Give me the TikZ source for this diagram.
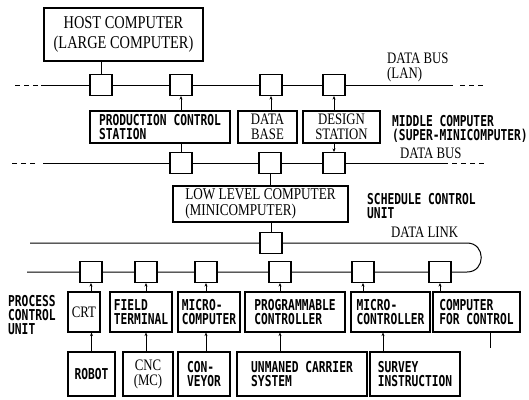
\documentclass[tikz,border=0pt]{standalone}
\usepackage{fontspec}
\setmainfont{Liberation Serif}[FakeStretch=0.8]
\newfontfamily\gothic{DejaVu Sans Mono}[FakeStretch=0.75]
\usetikzlibrary{arrows.meta}

\begin{document}
\begin{tikzpicture}[
  x=1pt, y=-1pt,
  unit/.style={draw, line width=1.1pt, align=center, inner sep=1pt},
  gbox/.style={unit, align=left, font=\gothic\bfseries\fontsize{15}{14}\selectfont},
  sbox/.style={unit, font=\fontsize{16}{15}\selectfont},
  port/.style={draw, line width=1.1pt, fill=white, minimum width=22, minimum height=21, inner sep=0},
  lbl/.style={anchor=north west, inner sep=0, align=left, font=\gothic\bfseries\fontsize{15}{14}\selectfont},
  slbl/.style={anchor=north west, inner sep=0, align=left, font=\fontsize{16}{15}\selectfont},
  bus/.style={line width=1pt},
  busend/.style={bus, dash pattern=on 5pt off 4pt},
  link/.style={line width=0.8pt, -{Stealth[length=3.5pt,width=3pt]}}
]
  \useasboundingbox (0,0) rectangle (529,399);

  \coordinate (lanL)  at (41,85);
  \coordinate (lanR)  at (453,85);
  \coordinate (bus2L) at (43,163);
  \coordinate (bus2R) at (448,163);
  \coordinate (dlL)   at (30,243);
  \coordinate (dlR)   at (467,243);
  \coordinate (pbR)   at (467,272);
  \coordinate (pbL)   at (27,272);
  \coordinate (stub)  at (490,348);

  \draw[bus] (lanL) -- (lanR);
  \draw[busend] (lanL) ++(-3,0) -- ++(-26,0);
  \draw[busend] (lanR) ++(7,0) -- ++(26,0);
  \draw[bus] (bus2L) -- (bus2R);
  \draw[busend] (bus2L) ++(-8,0) -- ++(-23,0);
  \draw[busend] (bus2R) ++(4,0) -- ++(33,0);
  \draw[bus] (dlL) -- (dlR) .. controls +(19,0) and +(19,0) .. (pbR) -- (pbL);

  \node[sbox, minimum width=159, minimum height=53, font=\fontsize{18}{20}\selectfont] (host) at (123.5,34.5) {HOST COMPUTER\\(LARGE COMPUTER)};
  \node[gbox, minimum width=140, minimum height=32] (prod)   at (160,127)   {PRODUCTION CONTROL\\STATION};
  \node[sbox, minimum width=59,  minimum height=32] (dbase)  at (267.5,127) {DATA\\BASE};
  \node[sbox, minimum width=77,  minimum height=32] (design) at (341.5,127) {DESIGN\\STATION};
  \node[sbox, align=left, minimum width=175, minimum height=36, font=\fontsize{16.5}{16.5}\selectfont] (low) at (260.5,204) {LOW LEVEL COMPUTER\\(MINICOMPUTER)};

  \node[sbox, minimum width=32,  minimum height=40] (crt)   at (84,312)    {CRT};
  \node[gbox, minimum width=62,  minimum height=40] (field) at (141,312)   {FIELD\\TERMINAL};
  \node[gbox, minimum width=62,  minimum height=40] (mcomp) at (209,312)   {MICRO-\\COMPUTER};
  \node[gbox, minimum width=100, minimum height=40] (plc)   at (295,312)   {PROGRAMMABLE\\CONTROLLER};
  \node[gbox, minimum width=79,  minimum height=40] (mctrl) at (390.5,312) {MICRO-\\CONTROLLER};
  \node[gbox, minimum width=87,  minimum height=40] (cfc)   at (476.5,312) {COMPUTER\\FOR CONTROL};

  \node[gbox, minimum width=47,  minimum height=44] (robot)  at (91.5,374) {ROBOT};
  \node[sbox, minimum width=50,  minimum height=44] (cnc)    at (148,374)  {CNC\\(MC)};
  \node[gbox, minimum width=52,  minimum height=44] (conv)   at (204,374)  {CON-\\VEYOR};
  \node[gbox, minimum width=130, minimum height=44] (agv)    at (302,374)  {UNMANED CARRIER\\SYSTEM};
  \node[gbox, minimum width=90,  minimum height=44] (survey) at (415,374)  {SURVEY\\INSTRUCTION};

  \node[port] (l1) at (101,85) {};
  \node[port] (l2) at (181,85) {};
  \node[port] (l3) at (271,85) {};
  \node[port] (l4) at (334,85) {};
  \node[port] (m1) at (181,163) {};
  \node[port] (m2) at (270,163) {};
  \node[port] (m3) at (334,163) {};
  \node[port] (d0) at (271,243) {};
  \node[port] (p1) at (91,272) {};
  \node[port] (p2) at (146,272) {};
  \node[port] (p3) at (206,272) {};
  \node[port] (p4) at (280,272) {};
  \node[port] (p5) at (363,272) {};
  \node[port] (p6) at (440,272) {};

  \draw[bus]  (host.south -| l1) -- (l1.north);
  \draw[link] (prod.north -| l2) -- (l2.south);
  \draw[link] (dbase.north -| l3) -- (l3.south);
  \draw[link] (design.north -| l4) -- (l4.south);
  \draw[bus]  (prod.south -| m1) -- (m1.north);
  \draw[link] (design.south -| m3) -- (m3.north);
  \draw[bus]  (m2.south) -- (low.north -| m2);
  \draw[bus]  (low.south -| d0) -- (d0.north);

  \draw[link] (crt.north -| p1) -- (p1.south);
  \draw[link] (field.north -| p2) -- (p2.south);
  \draw[link] (mcomp.north -| p3) -- (p3.south);
  \draw[link] (plc.north -| p4) -- (p4.south);
  \draw[link] (mctrl.north -| p5) -- (p5.south);
  \draw[link] (cfc.north -| p6) -- (p6.south);

  \draw[link] (robot.north) -- (crt.south -| robot);
  \draw[link] (cnc.north -| p2) -- (field.south -| p2);
  \draw[link] (conv.north -| p3) -- (mcomp.south -| p3);
  \draw[link] (agv.north -| p4) -- (plc.south -| p4);
  \draw[link] ([xshift=-7.5pt]mctrl.south |- survey.north) -- ([xshift=-7.5pt]mctrl.south);
  \draw[bus]  (cfc.south -| stub) -- (stub);

  \node[slbl] (lanlbl) at (387,53)  {DATA BUS\\(LAN)};
  \node[lbl]  (midlbl) at (392,115) {MIDDLE COMPUTER\\(SUPER-MINICOMPUTER)};
  \node[slbl] (buslbl) at (400,148) {DATA BUS};
  \node[lbl]  (schlbl) at (367,193) {SCHEDULE CONTROL\\UNIT};
  \node[slbl] (dllbl)  at (391,227) {DATA LINK};
  \node[lbl]  (pculbl) at (8,295)   {PROCESS\\CONTROL\\UNIT};
\end{tikzpicture}
\end{document}
